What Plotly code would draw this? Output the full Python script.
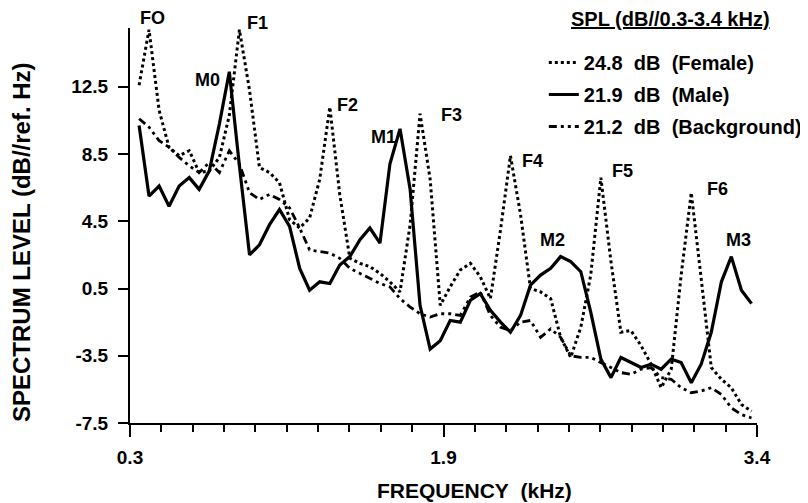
import plotly.graph_objects as go

# Sample frequencies (kHz)
freq = [0.345, 0.394, 0.444, 0.493, 0.543, 0.593, 0.642, 0.692, 0.742, 0.791,
        0.841, 0.891, 0.940, 0.990, 1.039, 1.089, 1.139, 1.188, 1.238, 1.288,
        1.337, 1.387, 1.437, 1.486, 1.536, 1.585, 1.635, 1.685, 1.734, 1.784,
        1.834, 1.883, 1.933, 1.983, 2.032, 2.082, 2.132, 2.181, 2.231, 2.280,
        2.330, 2.380, 2.429, 2.479, 2.529, 2.578, 2.628, 2.678, 2.727, 2.777,
        2.827, 2.876, 2.926, 2.976, 3.025, 3.075, 3.124, 3.174, 3.224, 3.273,
        3.323, 3.373]

female = [12.6, 15.9, 11.1, 8.9, 8.4, 8.7, 7.4, 7.5, 8.3, 10.8,
          15.9, 12.3, 7.7, 7.4, 6.8, 4.6, 4.1, 4.7, 7.0, 11.3,
          6.1, 2.3, 2.0, 1.8, 1.4, 0.9, 0.3, 4.3, 10.9, 7.0,
          -0.5, 0.6, 1.6, 2.0, 1.2, -0.1, 4.0, 8.4, 4.9, 0.5,
          0.3, -0.1, -2.4, -3.6, -1.8, 1.3, 7.1, 2.1, -2.1, -2.0,
          -2.9, -4.0, -5.4, -4.3, 1.3, 6.2, 1.1, -4.2, -4.9, -5.4,
          -6.4, -6.8]

male = [10.2, 6.0, 6.6, 5.4, 6.6, 7.1, 6.4, 7.5, 10.3, 13.4,
        7.8, 2.5, 3.1, 4.3, 5.2, 4.2, 1.7, 0.4, 0.9, 0.8,
        1.9, 2.4, 3.4, 4.1, 3.2, 7.9, 10.0, 6.4, -0.5, -3.1,
        -2.6, -1.4, -1.5, -0.2, 0.2, -0.8, -1.5, -2.1, -1.1, 0.7,
        1.3, 1.7, 2.4, 2.1, 1.5, -0.9, -3.7, -4.8, -3.6, -3.9,
        -4.2, -4.0, -4.3, -3.7, -3.9, -5.1, -4.0, -2.1, 0.9, 2.4,
        0.4, -0.4]

background = [10.6, 10.1, 9.3, 8.9, 8.3, 7.8, 7.4, 8.0, 7.4, 8.7,
              7.9, 6.2, 5.8, 6.1, 5.8, 5.3, 4.1, 2.8, 2.7, 2.6,
              2.3, 1.7, 1.4, 1.1, 0.8, 0.6, -0.1, -0.6, -1.0, -1.2,
              -1.0, -1.0, -1.1, 0.0, 0.3, -1.1, -1.8, -2.0, -1.5, -1.4,
              -2.4, -1.9, -2.4, -3.5, -3.6, -3.6, -3.9, -4.2, -4.5, -4.6,
              -4.3, -4.2, -4.8, -4.9, -5.4, -5.7, -5.6, -5.4, -5.8, -6.6,
              -7.0, -7.2]

series_names = ["24.8\u00a0 dB\u00a0 (Female)", "21.9\u00a0 dB\u00a0 (Male)",
                "21.2\u00a0 dB\u00a0 (Background)"]

x_tickvals = [0.3, 1.85, 3.4]
x_ticktext = ["0.3", "1.9", "3.4"]
y_tickvals = [-7.5, -3.5, 0.5, 4.5, 8.5, 12.5]
y_ticktext = ["-7.5", "-3.5", "0.5", "4.5", "8.5", "12.5"]

peak_labels = ["FO", "F1", "M0", "F2", "M1", "F3", "F4", "F5", "F6", "M2", "M3"]
peak_label_x = [0.409, 0.928, 0.681, 1.373, 1.551, 1.892, 2.292, 2.737, 3.207, 2.391, 3.309]
peak_label_y = [16.6, 16.3, 12.9, 11.4, 9.5, 10.8, 8.1, 7.5, 6.4, 3.4, 3.4]

Y_RANGE = [-7.5, 16.0]
FONT = "Liberation Sans, Arial, Helvetica, sans-serif"

fig = go.Figure()
fig.add_trace(go.Scatter(x=freq, y=female, mode="lines", name=series_names[0],
                         legendgroup="f",
                         line=dict(color="black", width=3, dash="dot")))
fig.add_trace(go.Scatter(x=freq, y=male, mode="lines", name=series_names[1],
                         legendgroup="m",
                         line=dict(color="black", width=3.2, dash="solid")))
fig.add_trace(go.Scatter(x=freq, y=background, mode="lines", name=series_names[2],
                         legendgroup="b",
                         line=dict(color="black", width=2.8,
                                   dash="8px,4px,3px,4px,3px,4px")))

label_font = dict(family=FONT, size=18, color="black", weight="bold")
for t, xv, yv in zip(peak_labels, peak_label_x, peak_label_y):
    if yv > Y_RANGE[1]:
        # above the axis range: place by paper fraction so it is still drawn
        fig.add_annotation(x=xv, y=(yv - Y_RANGE[0]) / (Y_RANGE[1] - Y_RANGE[0]),
                           xref="x", yref="paper", text=t, showarrow=False,
                           xanchor="center", yanchor="middle", font=label_font)
    else:
        fig.add_annotation(x=xv, y=yv, xref="x", yref="y", text=t, showarrow=False,
                           xanchor="center", yanchor="middle", font=label_font)

fig.add_annotation(x=0.862, y=1.024, xref="paper", yref="paper",
                   text="<u>SPL (dB//0.3-3.4 kHz)</u>", showarrow=False,
                   xanchor="center", yanchor="middle",
                   font=dict(family=FONT, size=20, color="black", weight="bold"))
fig.add_annotation(x=-0.174, y=0.458, xref="paper", yref="paper",
                   text="SPECTRUM LEVEL (dB//ref. Hz)", textangle=-90, showarrow=False,
                   xanchor="center", yanchor="middle",
                   font=dict(family=FONT, size=24, color="black", weight="bold"))
fig.add_annotation(x=0.55, y=-0.172, xref="paper", yref="paper",
                   text="FREQUENCY\u00a0 (kHz)", showarrow=False,
                   xanchor="center", yanchor="middle",
                   font=dict(family=FONT, size=21, color="black", weight="bold"))

fig.update_layout(
    width=860, height=495,
    margin=dict(l=122, r=111, t=20, b=80),
    paper_bgcolor="white", plot_bgcolor="white",
    showlegend=True,
    legend=dict(x=0.660, y=0.962, xanchor="left", yanchor="top",
                bgcolor="rgba(0,0,0,0)", tracegroupgap=3,
                font=dict(family=FONT, size=20, color="black", weight="bold")),
    xaxis=dict(range=[0.3, 3.4], showgrid=False, zeroline=False,
               showline=True, linecolor="black", linewidth=2,
               tickmode="array", tickvals=x_tickvals, ticktext=x_ticktext,
               ticks="outside", ticklen=12, tickwidth=2, tickcolor="black",
               ticklabelstandoff=4,
               tickfont=dict(family=FONT, size=19, color="black", weight="bold"),
               minor=dict(tickmode="linear", tick0=0.3, dtick=0.155, ticks="outside",
                          ticklen=7, tickwidth=2, tickcolor="black", showgrid=False)),
    yaxis=dict(range=Y_RANGE, showgrid=False, zeroline=False,
               showline=True, linecolor="black", linewidth=2,
               tickmode="array", tickvals=y_tickvals, ticktext=y_ticktext,
               ticks="outside", ticklen=10, tickwidth=2, tickcolor="black",
               ticklabelstandoff=6,
               tickfont=dict(family=FONT, size=19, color="black", weight="bold")),
)

fig.write_html("out.html")
